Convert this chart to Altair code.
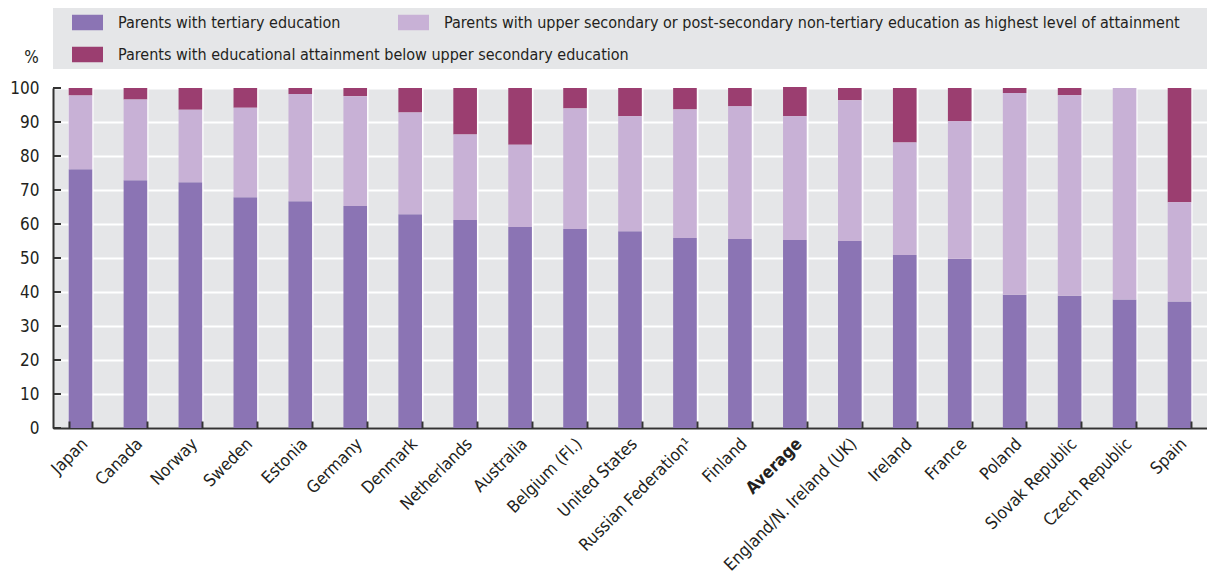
import altair as alt
import pandas as pd

countries = ["Japan", "Canada", "Norway", "Sweden", "Estonia", "Germany", "Denmark",
             "Netherlands", "Australia", "Belgium (Fl.)", "United States",
             "Russian Federation\u00b9", "Finland", "Average", "England/N. Ireland (UK)",
             "Ireland", "France", "Poland", "Slovak Republic", "Czech Republic", "Spain"]
tertiary = [76.1, 72.9, 72.3, 67.9, 66.7, 65.3, 62.9, 61.2, 59.1, 58.5, 57.9,
            55.9, 55.6, 55.3, 55.0, 50.9, 49.8, 39.2, 38.9, 37.8, 37.2]
upper = [21.7, 23.7, 21.3, 26.3, 31.5, 32.3, 29.9, 25.1, 24.2, 35.5, 33.8,
         37.8, 39.0, 36.4, 41.4, 33.1, 40.4, 59.3, 59.0, 62.2, 29.2]
below = [2.2, 3.4, 6.4, 5.8, 1.8, 2.4, 7.2, 13.7, 16.7, 6.0, 8.3,
         6.3, 5.4, 8.6, 3.6, 16.0, 9.8, 1.5, 2.1, 0.0, 33.6]
levels = ["Parents with tertiary education",
          "Parents with upper secondary or post-secondary non-tertiary education as highest level of attainment",
          "Parents with educational attainment below upper secondary education"]
colors = ["#8B74B4", "#C8B1D6", "#9B3E70"]
ytick_values = [0, 10, 20, 30, 40, 50, 60, 70, 80, 90, 100]

rows = []
for i, c in enumerate(countries):
    for k, vals in enumerate([tertiary, upper, below]):
        rows.append({"country": c, "level": levels[k], "value": vals[i], "ord": k})
df = pd.DataFrame(rows)

W, H = 1154, 340
FONT = "DejaVu Sans Condensed, sans-serif"
FS = 17
TXT = "#231F20"
AX = "#333333"

bg = alt.Chart(pd.DataFrame({"a": [0]})).mark_rect(color="#E5E6E8").encode(
    x=alt.value(0), x2=alt.value(W), y=alt.value(-80), y2=alt.value(-19)
)

xscale = alt.Scale(paddingInner=0.57, paddingOuter=0.285)
yscale = alt.Scale(domain=[0, 100], nice=False)


def legend(x, y):
    return alt.Legend(orient="none", legendX=x, legendY=y, direction="vertical",
                      rowPadding=8, symbolType="M-1,-0.5H1V0.5H-1Z", symbolSize=961,
                      symbolStrokeWidth=0, symbolOpacity=1,
                      labelFontSize=16, labelOffset=15, labelLimit=1000,
                      labelColor=TXT, title=None, zindex=1)


base = alt.Chart(df).transform_stack(
    stack="value", groupby=["country"], as_=["y0", "y1"],
    sort=[alt.SortField("ord", order="ascending")]
)

bars_a = base.transform_filter("datum.ord != 1").mark_bar().encode(
    x=alt.X("country:N", sort=countries, title=None, scale=xscale,
            axis=alt.Axis(labelAngle=315, labelAlign="right", labelBaseline="middle",
                          labelPadding=13, labelOffset=4, labelFontSize=FS, labelColor=TXT,
                          labelLimit=400,
                          labelFontWeight=alt.ExprRef("datum.value == 'Average' ? 'bold' : 'normal'"),
                          ticks=False, domain=True, domainColor=AX, domainWidth=2,
                          grid=True, gridColor="white", gridWidth=2, tickBand="extent")),
    y=alt.Y("y0:Q", title="%", scale=yscale,
            axis=alt.Axis(values=ytick_values, ticks=False, labelPadding=14, labelFontSize=FS,
                          labelColor=TXT, domain=True, domainColor=AX, domainWidth=2,
                          grid=True, gridColor="white", gridWidth=2,
                          titleAngle=0, titleX=-22, titleY=-31, titleAlign="center",
                          titleBaseline="middle", titleFontSize=FS, titleFontWeight="normal",
                          titleColor=TXT)),
    y2="y1:Q",
    color=alt.Color("level:N", scale=alt.Scale(domain=[levels[0], levels[2]],
                                               range=[colors[0], colors[2]]),
                    sort=[levels[0], levels[2]], legend=legend(19, -81)),
)

bars_b = base.transform_filter("datum.ord == 1").mark_bar().encode(
    x=alt.X("country:N", sort=countries, scale=xscale, axis=None),
    y=alt.Y("y0:Q", scale=yscale, axis=None),
    y2="y1:Q",
    color=alt.Color("level:N", scale=alt.Scale(domain=[levels[1]], range=[colors[1]]),
                    legend=legend(345, -81)),
)

yticks = alt.Chart(pd.DataFrame({"v": ytick_values})).mark_rule(color=AX, strokeWidth=2).encode(
    y=alt.Y("v:Q", axis=None), x=alt.value(0), x2=alt.value(8)
)

xticks = alt.Chart(df).mark_tick(opacity=0).encode(
    x=alt.X("country:N", sort=countries, title=None,
            axis=alt.Axis(orient="top", offset=-H, labels=False, domain=False, grid=False,
                          ticks=True, tickSize=7, tickColor=AX, tickWidth=2,
                          tickBand="extent", zindex=2))
)

chart = alt.layer(bg, bars_a, bars_b, yticks, xticks).resolve_axis(
    x="independent", y="independent"
).resolve_scale(color="independent").properties(
    width=W, height=H,
    autosize=alt.AutoSizeParams(type="none"),
    padding={"left": 45, "top": 80, "right": 0, "bottom": 147},
).configure(font=FONT).configure_view(fill="#E5E6E8", stroke=None)

chart.save("out.html", embed_options={"renderer": "svg", "actions": False})
